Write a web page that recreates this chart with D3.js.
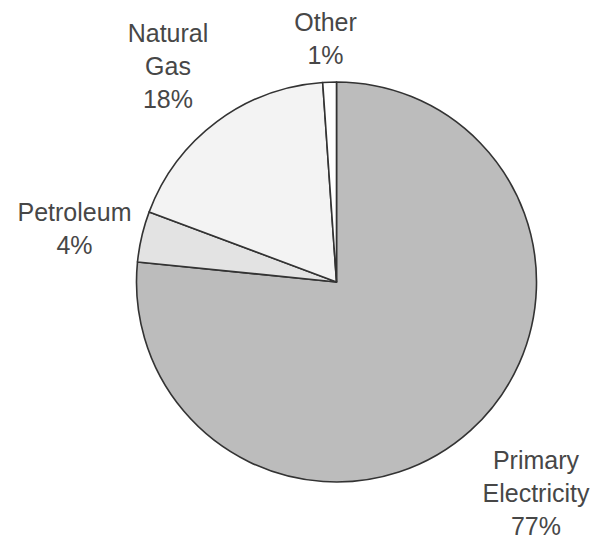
<!DOCTYPE html>
<html>
<head>
<meta charset="utf-8">
<script src="https://cdn.jsdelivr.net/npm/d3@7"></script>
<style>
  html, body { margin: 0; padding: 0; background: #fff; }
  svg { display: block; }
</style>
</head>
<body>
<svg id="chart" width="595" height="540"></svg>
<script>
// Data (clockwise from 12 o'clock)
const categories = ["Primary Electricity", "Petroleum", "Natural Gas", "Other"];
const values = [76.6, 4.1, 18.2, 1.1];
const labelLines = [["Primary", "Electricity"], ["Petroleum"], ["Natural", "Gas"], ["Other"]];
const percentLabels = ["77%", "4%", "18%", "1%"];
const fills = ["#bcbcbc", "#e3e3e3", "#f3f3f3", "#ffffff"];

const svg = d3.select("#chart");
const cx = 336.5, cy = 282, r = 200;

const pie = d3.pie().sort(null).value(d => d.value);
const arcs = pie(categories.map((c, i) => ({ cat: c, value: values[i], i })));
const arc = d3.arc().innerRadius(0).outerRadius(r);

const g = svg.append("g").attr("transform", `translate(${cx},${cy})`);
g.selectAll("path").data(arcs).enter().append("path")
  .attr("d", arc)
  .attr("fill", d => fills[d.data.i])
  .attr("stroke", "#333333")
  .attr("stroke-width", 1.6)
  .attr("stroke-linejoin", "round");

// Label positions (centre x, first baseline y)
const labelPos = [[536, 469], [74.5, 220.7], [168, 42], [325.5, 30.7]];
const lineH = 33;
categories.forEach((c, i) => {
  const lines = labelLines[i].concat([percentLabels[i]]);
  const t = svg.append("text")
    .attr("text-anchor", "middle")
    .attr("font-family", "Liberation Sans, Arial, sans-serif")
    .attr("font-size", 25)
    .attr("fill", "#474747");
  lines.forEach((ln, k) => {
    t.append("tspan").attr("x", labelPos[i][0]).attr("y", labelPos[i][1] + k * lineH).text(ln);
  });
});
</script>
</body>
</html>
